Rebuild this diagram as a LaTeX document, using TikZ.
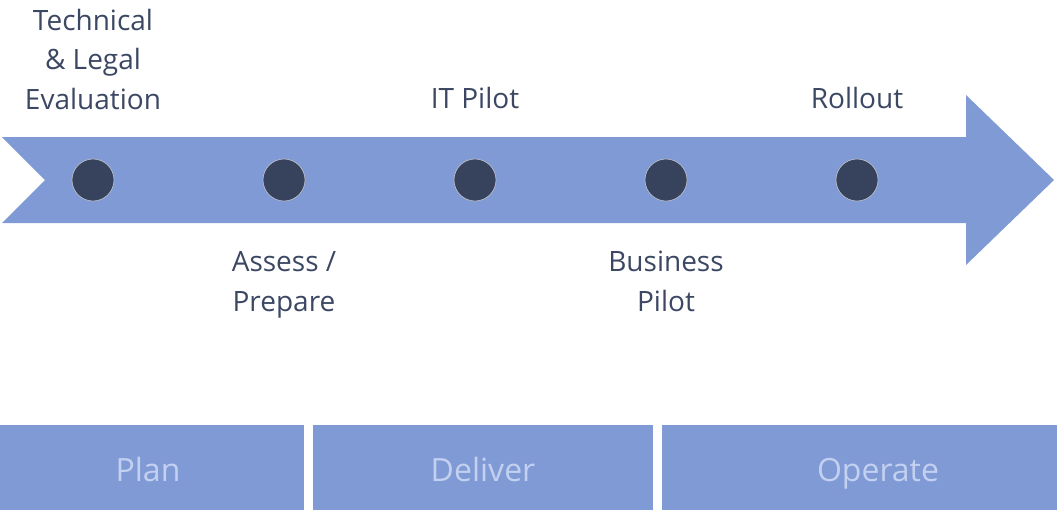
\documentclass[tikz,border=0pt]{standalone}
\usepackage{fontspec}
\setmainfont{Open Sans}
\definecolor{arrowblue}{HTML}{7F9AD5}
\definecolor{dotnavy}{HTML}{37425C}
\definecolor{labeltext}{HTML}{3B4763}
\definecolor{bartext}{HTML}{C3D0F0}
\tikzset{
  lbl/.style={text=labeltext, font=\fontsize{28}{39.5}\selectfont, align=center, inner sep=0pt},
  dot/.style={circle, fill=dotnavy, draw=white!70!dotnavy, line width=0.6pt, minimum size=42pt, inner sep=0pt},
  phasebar/.style={fill=arrowblue, draw=none},
  bartxt/.style={text=bartext, font=\fontsize{32}{36}\selectfont, inner sep=0pt}
}
\begin{document}
\begin{tikzpicture}[x=1pt,y=-1pt]
\useasboundingbox (0,0) rectangle (1057,512);
% big arrow
\fill[arrowblue] (2,137) -- (966,137) -- (966,95) -- (1054,180) -- (966,265) -- (966,223) -- (2,223) -- (45,180) -- cycle;
% dots
\node[dot] (d1) at (93,180) {};
\node[dot] (d2) at (284,180) {};
\node[dot] (d3) at (475,180) {};
\node[dot] (d4) at (666,180) {};
\node[dot] (d5) at (857,180) {};
% labels
\node[lbl, anchor=base] (l1) at (93,109) {Technical\\ \& Legal\\ Evaluation};
\node[lbl, anchor=base] (l3) at (475,108) {IT Pilot};
\node[lbl, anchor=base] (l5) at (857,108) {Rollout};
\node[lbl, anchor=base] (l2) at (284,311) {Assess /\\ Prepare};
\node[lbl, anchor=base] (l4) at (666,311) {Business\\ Pilot};
% phase bars
\path[phasebar] (0,425) rectangle (304,510);
\path[phasebar] (313,425) rectangle (653,510);
\path[phasebar] (662,425) rectangle (1057,510);
\node[bartxt, anchor=base] (p1) at (148,481) {Plan};
\node[bartxt, anchor=base] (p2) at (483,481) {Deliver};
\node[bartxt, anchor=base] (p3) at (878,481) {Operate};
\end{tikzpicture}
\end{document}
